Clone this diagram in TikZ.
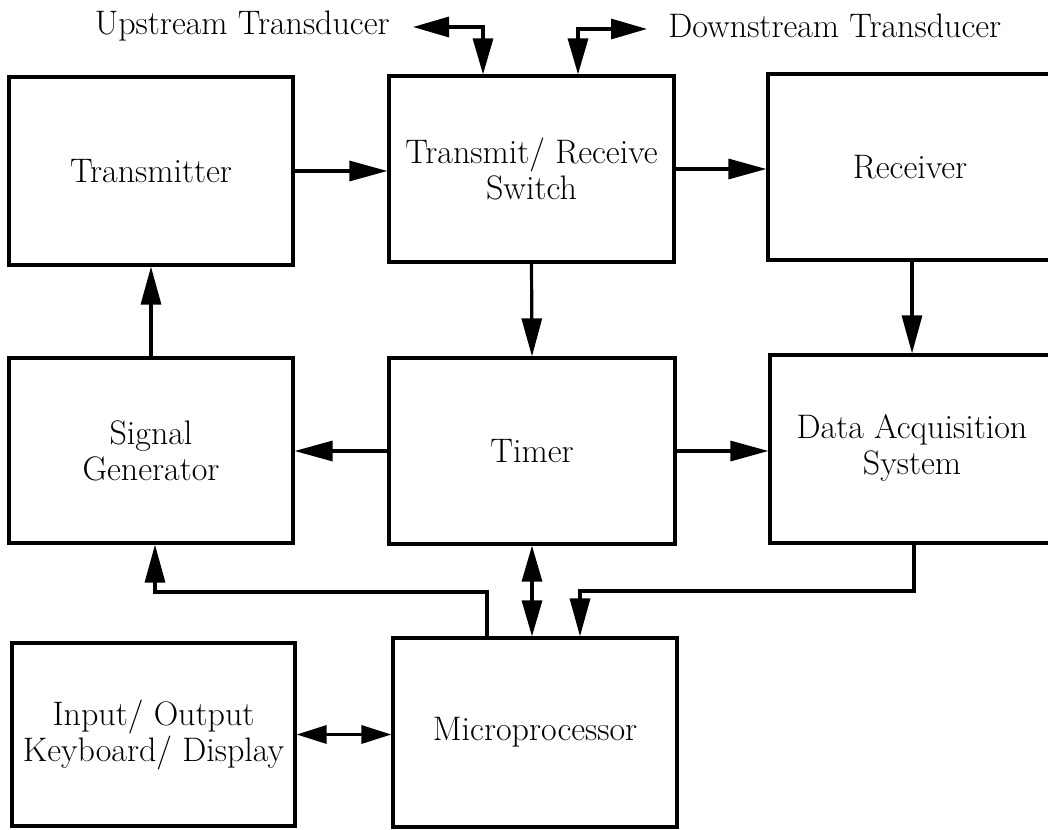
\documentclass[tikz,border=0pt]{standalone}
\usetikzlibrary{arrows.meta,calc}
\begin{document}
\begin{tikzpicture}[x=0.5pt,y=-0.5pt,
  box/.style={draw,line width=1.6pt,rectangle,inner sep=0pt,align=center,font=\fontsize{17}{18}\selectfont},
  lbl/.style={inner sep=0pt,font=\fontsize{17}{18}\selectfont},
  conn/.style={line width=1.6pt},
  arr/.style={conn,-{Triangle[length=19pt,width=10pt]}},
  barr/.style={conn,{Triangle[length=18pt,width=10pt]}-{Triangle[length=18pt,width=10pt]}},
  sarr/.style={conn,{Triangle[length=15pt,width=9pt]}-{Triangle[length=15pt,width=9pt]}}]
\useasboundingbox (0,0) rectangle (1048,829);
\clip (0,0) rectangle (1048,829);
% boxes
\node[box,minimum width=142pt,minimum height=94pt] (tx) at (151,171) {Transmitter};
\node[box,minimum width=142.5pt,minimum height=93pt] (sw) at (531.5,169) {Transmit/ Receive\\Switch};
\node[box,minimum width=151pt,minimum height=93pt] (rx) at (919,167) {\hspace*{-9pt}Receiver};
\node[box,minimum width=142pt,minimum height=92.5pt] (sg) at (151,450.5) {Signal\\Generator};
\node[box,minimum width=143pt,minimum height=93pt] (tm) at (532,451) {Timer};
\node[box,minimum width=150pt,minimum height=94pt] (daq) at (920,449) {\hspace*{-8pt}\begin{tabular}{@{}c@{}}Data Acquisition\\System\end{tabular}};
\node[box,minimum width=141.5pt,minimum height=91.5pt] (io) at (153.5,734.5) {Input/ Output\\Keyboard/ Display};
\node[box,minimum width=142pt,minimum height=94.5pt] (mp) at (535,732.5) {Microprocessor};
% top labels
\node[lbl,anchor=east] (up) at (390,26) {Upstream Transducer};
\node[lbl,anchor=west] (dn) at (668,26) {Downstream Transducer};
\coordinate (ul) at (413,27);
\coordinate (uc) at (483,27);
\coordinate (ur) at (647,29);
\coordinate (urc) at (578,29);
\draw[barr] (ul) -| (uc |- sw.north);
\draw[barr] (urc |- sw.north) |- (ur);
% connectors
\draw[arr] (tx.east) -- (tx.east -| sw.west);
\draw[arr] (sw.east) -- (sw.east -| rx.west);
\draw[arr] ([xshift=-3.5pt]rx.south) -- ([xshift=-3.5pt]rx.south |- daq.north);
\draw[arr] (sw.south) -- (tm.north);
\draw[arr] (tm.west) -- (tm.west -| sg.east);
\draw[arr] (tm.east) -- (tm.east -| daq.west);
\draw[arr] (sg.north) -- (tx.south);
\draw[barr] (tm.south) -- (tm.south |- mp.north);
\coordinate (c1) at (487,592);
\coordinate (c2) at (580,591);
\draw[arr] (c1 |- mp.north) -- (c1) -| ([xshift=2pt]sg.south);
\draw[arr] ([xshift=-3pt]daq.south) |- (c2) -- (c2 |- mp.north);
\draw[sarr] (io.east) -- (io.east -| mp.west);
\end{tikzpicture}
\end{document}
